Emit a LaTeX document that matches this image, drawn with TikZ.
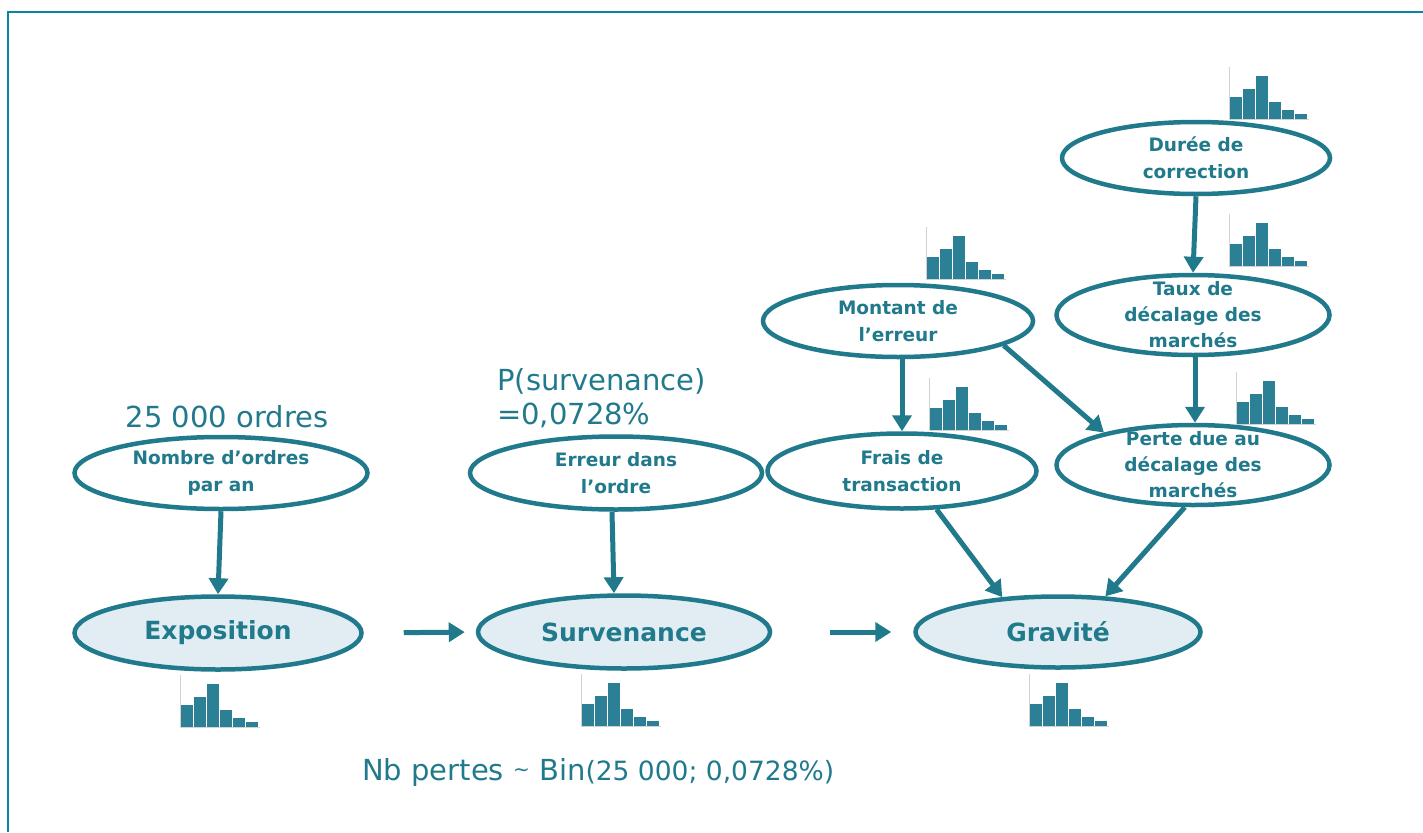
\documentclass[tikz,border=0pt]{standalone}
\usepackage{fontspec}
\setmainfont{DejaVu Sans}
\usetikzlibrary{shapes.geometric,arrows.meta}
\definecolor{teal1}{RGB}{33,122,140}
\definecolor{barc}{RGB}{43,128,150}
\definecolor{lightf}{RGB}{225,237,243}
\definecolor{framec}{RGB}{10,132,165}
\tikzset{
  ell/.style={ellipse, draw=teal1, line width=4.5pt, inner sep=0pt, fill=white},
  mainell/.style={ell, fill=lightf},
  lbl/.style={text=teal1, align=center, font=\bfseries\fontsize{18.5}{27}\selectfont, inner sep=0pt},
  mainlbl/.style={text=teal1, font=\bfseries\fontsize{25}{28}\selectfont, inner sep=0pt},
  annot/.style={text=teal1, font=\fontsize{29}{34}\selectfont, inner sep=0pt},
  arr/.style={draw=teal1, line width=5pt, -{Triangle[length=16pt,width=19pt]}},
  hist/.pic={
    \draw[gray!35, line width=0.8pt] (0,-52) -- (0,0) -- (80,0);
    \foreach \i/\h in {0/22,1/30,2/43,3/17,4/9,5/5}
      \fill[barc] ({1+\i*13},0) rectangle ({13.2+\i*13},-\h);
  }
}
\begin{document}
\begin{tikzpicture}[x=1pt,y=-1pt]
\useasboundingbox (0,0) rectangle (1423,832);
% frame
\draw[framec, line width=2pt] (8,832) -- (8,12) -- (1423,12);

% ellipses
\node[ell, minimum width=293pt, minimum height=72pt] (nombre) at (221,473) {};
\node[mainell, minimum width=287pt, minimum height=73pt] (expo) at (218,633) {};
\node[ell, minimum width=292pt, minimum height=73pt] (erreur) at (616,473) {};
\node[mainell, minimum width=292pt, minimum height=73pt] (surv) at (624,632) {};
\node[mainell, minimum width=285pt, minimum height=71pt] (grav) at (1058,632) {};
\node[ell, minimum width=270pt, minimum height=72pt] (montant) at (898,321) {};
\node[ell, minimum width=269pt, minimum height=75pt] (frais) at (902,471) {};
\node[ell, minimum width=268pt, minimum height=72pt] (duree) at (1196,158) {};
\node[ell, minimum width=273pt, minimum height=80pt] (taux) at (1193,315) {};
\node[ell, minimum width=273pt, minimum height=80pt] (perte) at (1193,465) {};

% labels
\node[lbl] at (nombre) {Nombre d’ordres\\par an};
\node[mainlbl] at (expo) {Exposition};
\node[lbl] at (erreur) {Erreur dans\\l’ordre};
\node[mainlbl] at (surv) {Survenance};
\node[mainlbl] at (grav) {Gravité};
\node[lbl] at (montant) {Montant de\\l’erreur};
\node[lbl] at (frais) {Frais de\\transaction};
\node[lbl] at (duree) {Durée de\\correction};
\node[lbl, font=\bfseries\fontsize{18.5}{26}\selectfont] at (taux) {Taux de\\décalage des\\marchés};
\node[lbl, font=\bfseries\fontsize{18.5}{26}\selectfont] at (perte) {Perte due au\\décalage des\\marchés};

% annotations
\node[annot, anchor=base] (ordres) at (227,427) {25 000 ordres};
\node[annot, anchor=base west] (psurv) at (497,390) {P(survenance)};
\node[annot, anchor=base west] (pval) at (497,424) {=0,0728\%};
\node[annot, anchor=base west] (bin) at (362,780) {Nb pertes \raisebox{4pt}{\fontsize{20}{20}\selectfont\char"007E} Bin{\fontsize{26.5}{30}\selectfont(25 000; 0,0728\%)}};

% connectors
\draw[arr] (nombre.south) -- (expo.north);
\draw[arr] ([xshift=-4pt]erreur.south) -- ([xshift=-10pt]surv.north);
\draw[arr, shorten <=40pt, shorten >=11pt] (expo.east) -- (surv.west);
\draw[arr, shorten <=58pt, shorten >=22pt] (surv.east) -- (grav.west);
\draw[arr] (frais.north |- montant.south) -- (frais.north);
\draw[arr] (montant.-13) -- (perte.160);
\draw[arr] (duree.south) -- (taux.north);
\draw[arr] ([xshift=2pt]taux.south) -- ([xshift=2pt]perte.north);
\draw[arr] (frais.-48) -- (grav.148);
\draw[arr] (perte.-101) -- (grav.37);

% histograms
\pic at (180,727) {hist};
\pic at (581,726) {hist};
\pic at (1029,726) {hist};
\pic at (1229,119) {hist};
\pic at (1229,266) {hist};
\pic at (926,279) {hist};
\pic at (929,430) {hist};
\pic at (1236,424) {hist};
\end{tikzpicture}
\end{document}
